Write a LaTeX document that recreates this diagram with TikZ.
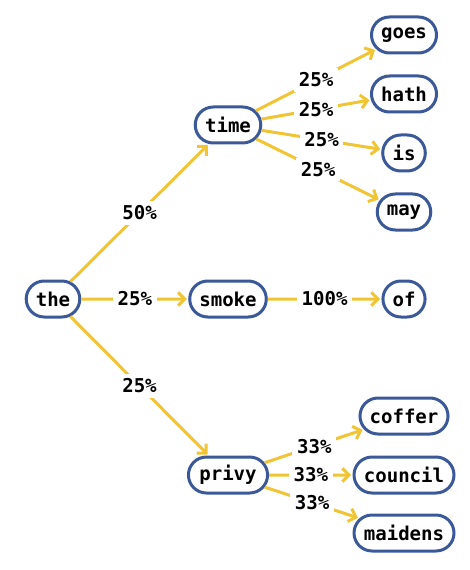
\documentclass[tikz,border=0pt]{standalone}
\usepackage{fontspec}
\setmonofont{DejaVu Sans Mono}
\usetikzlibrary{arrows.meta,shapes.misc}
\definecolor{nodeblue}{RGB}{59,89,152}
\definecolor{edgeyellow}{RGB}{240,196,50}
\tikzset{
  word/.style={rounded rectangle, draw=nodeblue, line width=2.25pt, fill=white,
    minimum height=27pt, inner xsep=6pt, inner ysep=0pt,
    font=\fontsize{14.3}{15}\ttfamily\bfseries, text=black},
  link/.style={draw=edgeyellow, line width=2.25pt,
    -{Straight Barb[length=5pt,width=10pt,line width=2.25pt]}, shorten >=1pt},
  prob/.style={fill=white, inner sep=3.5pt, font=\fontsize{14.3}{15}\ttfamily\bfseries, text=black}
}
\begin{document}
\begin{tikzpicture}[x=0.75pt,y=-0.75pt]
\useasboundingbox (0,0) rectangle (469,570);
\node[word] (the) at (53,299) {the};
\node[word] (time) at (228,125) {time};
\node[word] (smoke) at (228,299) {smoke};
\node[word] (privy) at (228,475) {privy};
\node[word] (goes) at (404,35) {goes};
\node[word] (hath) at (404,94) {hath};
\node[word] (is) at (404,153) {is};
\node[word] (may) at (404,212) {may};
\node[word] (of) at (404,299) {of};
\node[word] (coffer) at (404,416) {coffer};
\node[word] (council) at (404,475) {council};
\node[word] (maidens) at (404,533) {maidens};
\draw[link] (the) -- node[prob] {50\%} (time);
\draw[link] (the) -- node[prob] {25\%} (smoke);
\draw[link] (the) -- node[prob] {25\%} (privy);
\draw[link] (time) -- node[prob] {25\%} (goes);
\draw[link] (time) -- node[prob] {25\%} (hath);
\draw[link] (time) -- node[prob] {25\%} (is);
\draw[link] (time) -- node[prob] {25\%} (may);
\draw[link] (smoke) -- node[prob] {100\%} (of);
\draw[link] (privy) -- node[prob] {33\%} (coffer);
\draw[link] (privy) -- node[prob] {33\%} (council);
\draw[link] (privy) -- node[prob] {33\%} (maidens);
\end{tikzpicture}
\end{document}
